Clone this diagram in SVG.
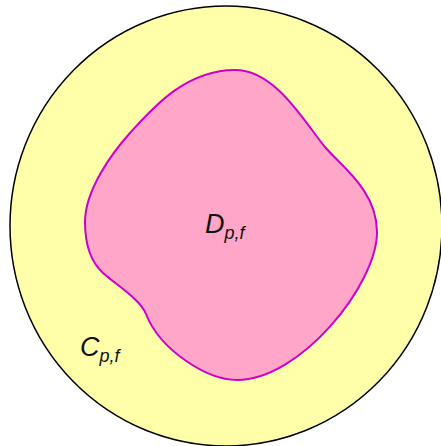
<svg xmlns="http://www.w3.org/2000/svg" width="441" height="446" viewBox="0 0 441 446">
<style>
.lbl{font-family:"Liberation Sans",Arial,sans-serif;font-style:italic;fill:#111}
.big{font-size:27px}
.sub{font-size:18px}
</style>
<rect width="441" height="446" fill="#ffffff"/>
<g id="outer">
<ellipse cx="226" cy="226" rx="216" ry="220" fill="#ffffaa" stroke="#000" stroke-width="1.5"/>
<text class="lbl" x="80" y="356"><tspan class="big">C</tspan><tspan class="sub" dy="6">p,f</tspan></text>
</g>
<g id="inner">
<path d="M235,70 C275,70 303,120 325,147 C340,165 377,190 377,232 C377,285 300,380 237,380 C207,380 160,350 146,314 C140,299 115,284 103,273 C91,262 85,245 85,222 C85,190 112,153 130,133 C152,109 185,70 235,70 Z" fill="#ffa6c9" stroke="#cc00cc" stroke-width="2"/>
<text class="lbl" x="205" y="233"><tspan class="big">D</tspan><tspan class="sub" dy="6">p,f</tspan></text>
</g>
</svg>
